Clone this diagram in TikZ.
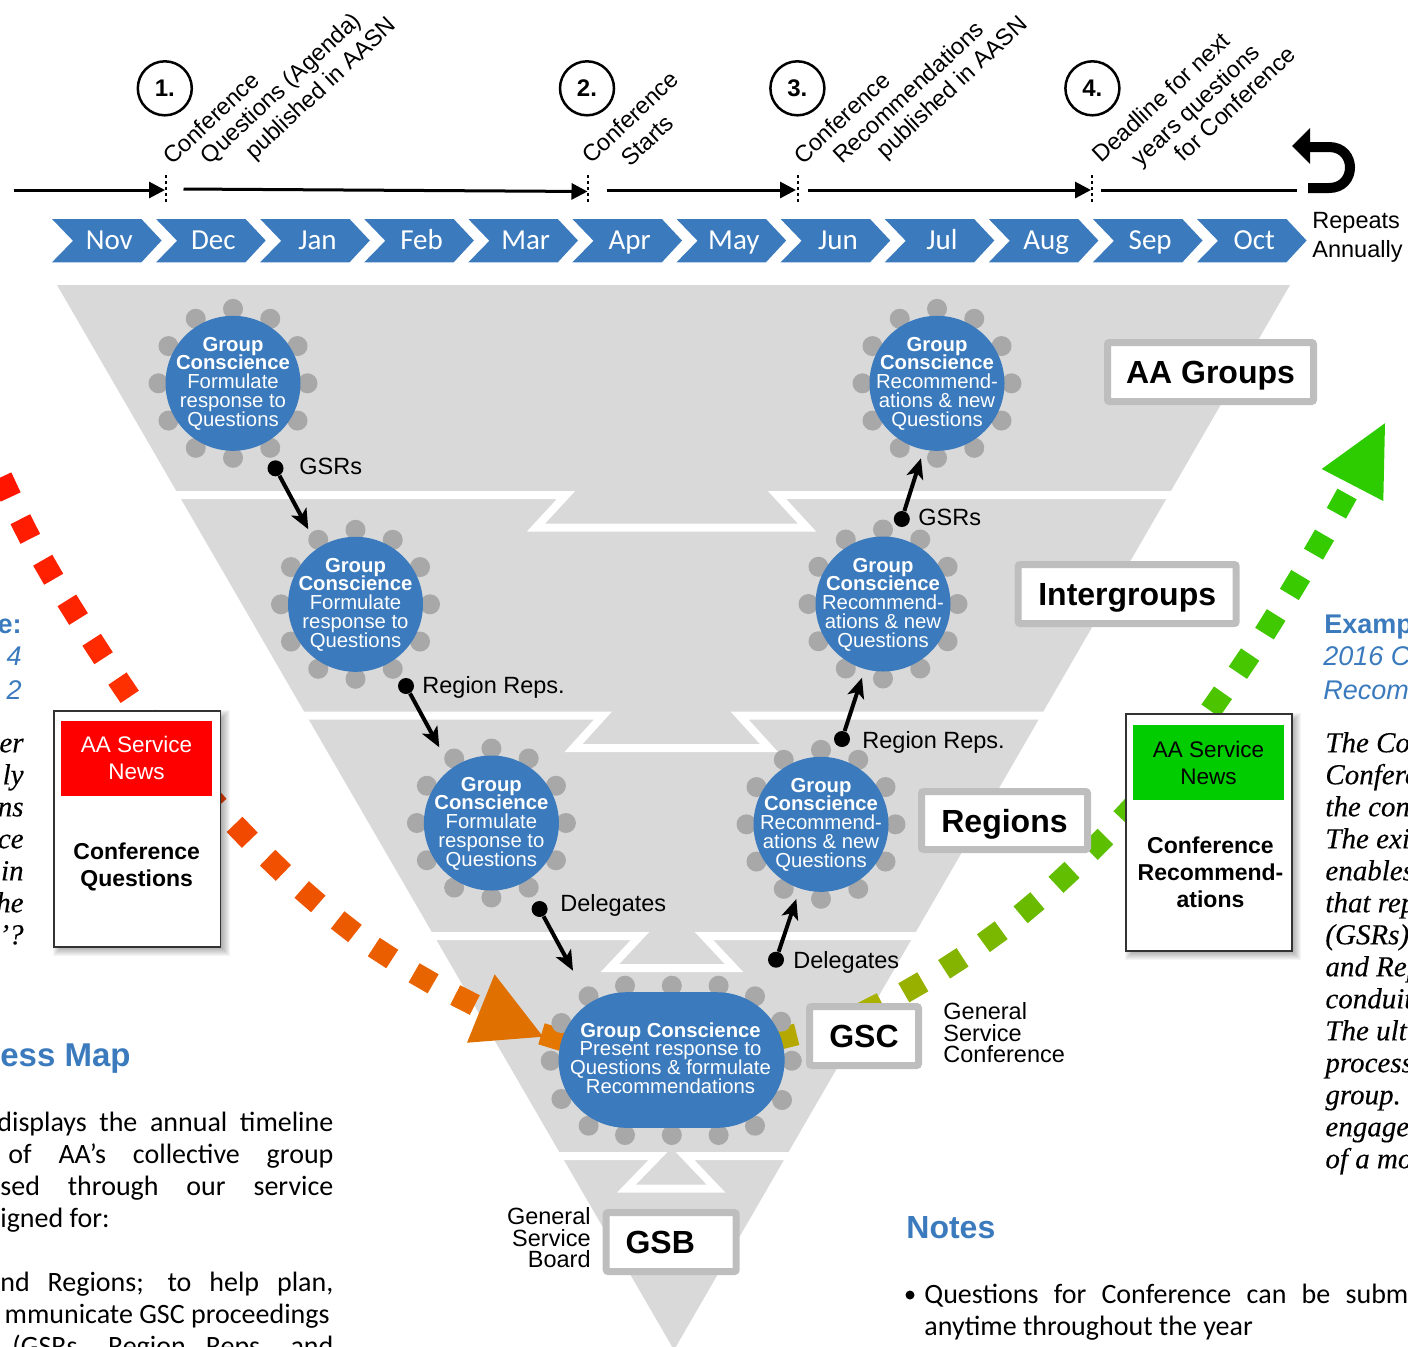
\documentclass[tikz,border=0pt]{standalone}
\usepackage{fontspec}
\setmainfont{Liberation Sans}
\newfontfamily\calfont{Carlito}
\newfontfamily\serfont[ItalicFeatures={FakeBold=0.25}]{Liberation Serif}
\usetikzlibrary{arrows.meta}
\definecolor{aablue}{HTML}{3A7ABD}
\definecolor{funnel}{HTML}{D9D9D9}
\definecolor{frameg}{HTML}{BEBEBE}
\definecolor{seat}{HTML}{A8A8A8}
\definecolor{ShadeOrange}{HTML}{E07000}
\definecolor{HeadGreen}{HTML}{2DCC00}
\definecolor{GreenHdr}{HTML}{00CC00}
\newcommand{\fs}[2]{\lineskiplimit=-100pt\fontsize{#1}{#2}\selectfont}
\newcommand{\seats}[2]{\foreach \a in {0,30,...,330}{\fill[seat] ({#1+74.5*cos(\a)},{#2+74.5*sin(\a)}) circle[radius=10];}}
\newcommand{\softshadow}[4]{\foreach \e in {-3,-2,...,5}{\fill[black,opacity=.04] ({#1+4-\e},{#2+4-\e}) rectangle ({#3+4+\e},{#4+4+\e});}}
\tikzset{
  lbl/.style={inner sep=0,font=\fs{11.75}{11}},
  gcdisc/.style={circle,fill=aablue,inner sep=0,minimum size=67.5pt},
  gctext/.style={text=white,inner sep=0,align=center,font=\fs{10.15}{9.35}},
  tier/.style={draw=frameg,line width=3.5pt,fill=white,rounded corners=1pt,inner sep=0,text height=11.5pt,text depth=0pt,font=\fs{16}{16}\bfseries},
  bdot/.style={circle,fill=black,inner sep=0,minimum size=8pt},
  conn/.style={line width=2pt,-{Stealth[length=10pt,width=8.5pt,inset=2.5pt]}},
  tl/.style={line width=1.5pt,-{Triangle[length=8pt,width=8pt]}},
  tlend/.style={line width=1.5pt},
  stop/.style={line width=1pt,dash pattern=on 1.5pt off 1.5pt},
  num/.style={circle,draw=black,line width=1.25pt,minimum size=27pt,inner sep=0,font=\fs{12}{12}\bfseries},
  rot/.style={rotate=43,inner sep=0,font=\fs{11.75}{11}},
  mon/.style={inner sep=0,text=white,font=\calfont\fs{14.5}{14},anchor=mid},
  wht/.style={white,line width=4pt,miter limit=10},
  svc/.style={draw=black!80,line width=.8pt,fill=white,inner sep=0},
  sbody/.style={inner sep=0,font=\serfont\itshape\fs{14.5}{16}},
  body/.style={inner sep=0,font=\calfont\fs{14}{16}},
  bluehead/.style={inner sep=0,text=aablue,font=\fs{16}{16}\bfseries},
  bluesub/.style={inner sep=0,text=aablue,font=\fs{13.5}{16}\bfseries},
  blueit/.style={inner sep=0,text=aablue,font=\fs{13.5}{16}\itshape},
}
\begin{document}
\begin{tikzpicture}[x=0.5pt,y=-0.5pt]
\useasboundingbox (0,0) rectangle (1408,1346);
\clip (0,0) rectangle (1408,1346);

% funnel
\fill[funnel] (57,285) -- (1290,285) -- (674,1350) -- cycle;
\draw[wht] (150,495) -- (566,495) -- (536,527.5) -- (807,527.5) -- (777,495) -- (1200,495);
\draw[wht] (290,715.5) -- (603,715.5) -- (573.5,748) -- (769,748) -- (739.5,715.5) -- (1060,715.5);
\draw[wht] (400,936) -- (640,936) -- (610,968) -- (734,968) -- (704,936) -- (960,936);
\draw[wht] (540,1156) -- (658,1156) -- (626.5,1188.5) -- (716,1188.5) -- (685,1156) -- (810,1156);

% red to orange dashes
\foreach \x/\y/\a/\c in {
 6/487/-65/FF1500, 25.3/529/-63/FF1C00, 48.2/569.7/-60/FF2000, 72.7/609.7/-58/FF2400, 97.6/649/-57/FF2A00, 123.6/687.7/-56/FF3000,
 153/725/-54/F83400, 211/798/-48/F24400, 242.2/832.3/-46/F14A00, 275.5/865.3/-44/F05000, 310/896.7/-41/EE5400, 346.3/926.7/-38/EC5A00,
 383/953/-33/EB5E00, 423.6/978.3/-30/E86400, 465/1000/-27/E96A00, 552/1037/-17/E37700}{
 \definecolor{dc}{HTML}{\c}
 \fill[dc,shift={(\x,\y)},rotate=\a] (-11,-11) rectangle (11,11);
}
\fill[ShadeOrange] (494.6,974.3) -- (543,1036.7) -- (467,1042.7) -- cycle;

% olive to green dashes
\foreach \x/\y/\a/\c in {
 786/1037/14/B5A800, 872/1008/27/A8B000, 913.3/987.3/30/98B000, 953.3/963.3/33/85B400, 992.3/936.7/36/7AB800, 1029/907.7/40/6ABB00,
 1064/877.3/43/62BE00, 1097.7/844.3/45/5CC000, 1129/810.7/47/58C200, 1216.7/701.8/55/4CC500, 1244/663.6/56/46C700,
 1270.3/624.3/58/40C800, 1295/585/59/3ACA00, 1319/544.6/60/34CB00, 1341.7/503.6/61/30CC00}{
 \definecolor{dc}{HTML}{\c}
 \fill[dc,shift={(\x,\y)},rotate=\a] (-11,-11) rectangle (11,11);
}
\fill[HeadGreen] (1385,423.2) -- (1383.3,501) -- (1321.7,469) -- cycle;

% timeline
\coordinate (a0) at (13.5,190); \coordinate (a1) at (165,190);
\coordinate (b0) at (183.5,189); \coordinate (b1) at (587.5,191.5);
\coordinate (c0) at (607,190); \coordinate (c1) at (796,190);
\coordinate (e0) at (808,190); \coordinate (e1) at (1091,190);
\coordinate (f0) at (1101.4,190); \coordinate (f1) at (1296.7,190);
\draw[tl] (a0) -- (a1);
\draw[tl] (b0) -- (b1);
\draw[tl] (c0) -- (c1);
\draw[tl] (e0) -- (e1);
\draw[tlend] (f0) -- (f1);
\foreach \x in {165.5,588,797.5,1091.5}{\draw[stop] (\x,175) -- (\x,204);}
\node[num] (n1) at (164.8,88.3) {1.};
\node[num] (n2) at (587,88.3) {2.};
\node[num] (n3) at (797.4,88.3) {3.};
\node[num] (n4) at (1092.4,88.3) {4.};
\node[rot] (t11) at (211,118) {Conference};
\node[rot] (t12) at (282,89.5) {Questions (Agenda)};
\node[rot] (t13) at (321.6,89.5) {published in AASN};
\node[rot] (t21) at (630,117.2) {Conference};
\node[rot] (t22) at (647.3,140.5) {Starts};
\node[rot] (t31) at (841.7,117.5) {Conference};
\node[rot] (t32) at (908,92) {Recommendations};
\node[rot] (t33) at (953,88.5) {published in AASN};
\node[rot] (t41) at (1161,97.2) {Deadline for next};
\node[rot] (t42) at (1197,106.5) {years questions};
\node[rot] (t43) at (1235,103.5) {for Conference};
% repeat arrow
\draw[line width=5pt] (1308,188) -- (1329,188) .. controls (1357,188) and (1357,147) .. (1329,147) -- (1306,147);
\fill (1292,146) -- (1310,128) -- (1310,164) -- cycle;
\node[lbl,anchor=mid west] (rep1) at (1312,223) {Repeats};
\node[lbl,anchor=mid west] (rep2) at (1312,252) {Annually};

% months
\foreach \n [count=\i from 0] in {Nov,Dec,Jan,Feb,Mar,Apr,May,Jun,Jul,Aug,Sep,Oct}{
 \pgfmathsetmacro\s{52+104.09*\i}
 \fill[aablue] (\s,219) -- ++(89.4,0) -- ++(20.2,21.5) -- ++(-20.2,21.8) -- ++(-89.4,0) -- ++(21,-21.5) -- cycle;
 \node[mon] (m\i) at ({\s+57.3},244) {\n};
}

% seats
\seats{233}{383.3}
\seats{355.5}{604.3}
\seats{491.4}{823}
\seats{937}{383.3}
\seats{883}{604}
\seats{821}{824.3}
\foreach \x/\y in {625/985.7,671.8/985.7,718.6/985.7,588.6/996.3,755/996.3,561.4/1023,781/1021.7,550.7/1060.7,791.8/1060.7,561.4/1099,782/1100,588.6/1125.7,755/1125.7,625/1135,671.8/1135,718.6/1135}{
 \fill[seat] (\x,\y) circle[radius=10];
}

% group conscience
\node[gcdisc] (g1) at (233,383.3) {};
\node[gcdisc] (g2) at (355.5,604.3) {};
\node[gcdisc] (g3) at (491.4,823) {};
\node[gcdisc] (g4) at (937,383.3) {};
\node[gcdisc] (g5) at (883,604) {};
\node[gcdisc] (g6) at (821,824.3) {};
\node[gctext] (g1t) at (233,383.5) {\textbf{Group}\\\textbf{Conscience}\\Formulate\\response to\\Questions};
\node[gctext] (g2t) at (355.5,604.5) {\textbf{Group}\\\textbf{Conscience}\\Formulate\\response to\\Questions};
\node[gctext] (g3t) at (491.4,823.5) {\textbf{Group}\\\textbf{Conscience}\\Formulate\\response to\\Questions};
\node[gctext] (g4t) at (937,383.5) {\textbf{Group}\\\textbf{Conscience}\\Recommend-\\ations \& new\\Questions};
\node[gctext] (g5t) at (883,604.5) {\textbf{Group}\\\textbf{Conscience}\\Recommend-\\ations \& new\\Questions};
\node[gctext] (g6t) at (821,824.5) {\textbf{Group}\\\textbf{Conscience}\\Recommend-\\ations \& new\\Questions};
\node[fill=aablue,rounded corners=33.9pt,minimum width=113pt,minimum height=67.8pt,inner sep=0] (pill) at (671.6,1060) {};
\node[gctext] (pillt) at (670.5,1058) {\textbf{Group Conscience}\\Present response to\\Questions \& formulate\\Recommendations};

% connectors
\node[bdot] (d1) at (275.5,468.3) {};
\node[bdot] (d2) at (406,686) {};
\node[bdot] (d3) at (539.6,909) {};
\node[bdot] (d4) at (901.8,519) {};
\node[bdot] (d5) at (842,739) {};
\node[bdot] (d6) at (776,959.7) {};
\coordinate (e1x) at (308.3,529.3);
\coordinate (e2x) at (439.3,747.3);
\coordinate (e3x) at (573,970.7);
\coordinate (e4x) at (921,458.3);
\coordinate (e5x) at (862,677.7);
\coordinate (e6x) at (796.3,899);
\draw[conn] (d1) -- (e1x);
\draw[conn] (d2) -- (e2x);
\draw[conn] (d3) -- (e3x);
\draw[conn] (d4) -- (e4x);
\draw[conn] (d5) -- (e5x);
\draw[conn] (d6) -- (e6x);
\node[lbl,anchor=mid west] (l1) at (299,469.5) {GSRs};
\node[lbl,anchor=mid west] (l2) at (422,688.5) {Region Reps.};
\node[lbl,anchor=mid west] (l3) at (560,906.5) {Delegates};
\node[lbl,anchor=mid west] (l4) at (918,520.5) {GSRs};
\node[lbl,anchor=mid west] (l5) at (862,743.5) {Region Reps.};
\node[lbl,anchor=mid west] (l6) at (793,963.5) {Delegates};

% tier boxes
\node[tier,minimum width=103pt,minimum height=29.5pt] (aag) at (1210.5,372) {AA Groups};
\node[tier,minimum width=109pt,minimum height=29.5pt] (ing) at (1127.2,594) {Intergroups};
\node[tier,minimum width=83pt,minimum height=29pt] (reg) at (1004.5,820.5) {Regions};
\node[tier,minimum width=54.5pt,minimum height=29.5pt] (gsc) at (864,1036) {GSC};
\node[tier,minimum width=65pt,minimum height=29.5pt] (gsb) at (671.2,1242) {GSB\hspace*{11pt}};
\node[inner sep=0,align=left,anchor=north west,font=\fs{11.75}{10.7}] (gscl) at (943,1002.5) {General\\Service\\Conference};
\node[inner sep=0,align=right,anchor=north east,font=\fs{11.75}{10.7}] (gsbl) at (591,1207.5) {General\\Service\\Board};

% service news cards
\softshadow{54}{711}{220.5}{947}
\node[svc,minimum width=83.2pt,minimum height=118pt] (lc) at (137.2,829) {};
\node[fill=red,text=white,inner sep=0,minimum width=75.6pt,minimum height=37.4pt,align=center,font=\fs{11.25}{13.5}] (lh) at (136.5,758.4) {AA Service\\News};
\node[inner sep=0,align=center,font=\fs{11.5}{13.5}\bfseries] (lt) at (136.7,867) {Conference\\Questions};
\softshadow{1126}{714}{1292}{951}
\node[svc,minimum width=83pt,minimum height=118.5pt] (rc) at (1209,832.5) {};
\node[fill=GreenHdr,inner sep=0,minimum width=75.5pt,minimum height=37.5pt,align=center,font=\fs{11.25}{13.5}] (rh) at (1208.5,762.5) {AA Service\\News};
\node[inner sep=0,align=center,font=\fs{11.5}{13.5}\bfseries] (rt) at (1210.5,872) {Conference\\Recommend-\\ations};

% left cropped text
\node[bluesub,anchor=mid east] (x1) at (22,628) {e:};
\node[blueit,anchor=mid east] (x2) at (22,660) {4};
\node[blueit,anchor=mid east] (x3) at (22,694) {2};
\foreach \t/\y [count=\i] in {er/747,ly/779,ns/811,ce/843,in/875,he/907,e\kern1.5pt’?/939}{
 \node[sbody,anchor=mid east] (ls\i) at (24,\y) {\t};
}
\node[bluehead,anchor=mid east,font=\fs{16.5}{16}\bfseries] (pm) at (131,1061) {ess Map};
\node[body,anchor=mid west] (b1) at (-3,1126) {\makebox[168pt][s]{displays the annual timeline}};
\node[body,anchor=mid west] (b2) at (8,1158) {\makebox[162.5pt][s]{of AA’s collective group}};
\node[body,anchor=mid west] (b3) at (0,1190) {\makebox[166.5pt][s]{sed through our service}};
\node[body,anchor=mid west] (b4) at (0,1222) {igned for:};
\node[body,anchor=mid west] (b5) at (0,1286) {\makebox[166.5pt][s]{nd Regions; to help plan,}};
\node[body,anchor=mid east] (b6) at (330,1318) {mmunicate GSC proceedings};
\node[body,anchor=mid west] (b7) at (12,1350) {\makebox[160.5pt][s]{(GSRs, Region Reps, and}};

% right cropped text
\node[bluesub,anchor=mid west] (y1) at (1324,628) {Examp};
\node[blueit,anchor=mid west] (y2) at (1323,660) {2016 C};
\node[blueit,anchor=mid west] (y3) at (1323,694) {Recom};
\foreach \t/\y [count=\i] in {The Con/747,Confere/779,the con/811,The exi/843,enables/875,that rep/907,(GSRs)/939,and Rep/971,conduit/1003,The ult/1035,process/1067,group./1099,engage/1131,of a mo/1163}{
 \node[sbody,anchor=mid west] (rs\i) at (1325,\y) {\t};
}

% notes
\node[bluehead,anchor=mid west] (no) at (906,1233) {Notes};
\fill (910,1295) circle[radius=4.5];
\node[body,anchor=mid west] (nt1) at (924,1298) {\makebox[242pt][s]{Questions for Conference can be subm}};
\node[body,anchor=mid west] (nt2) at (924,1330) {anytime throughout the year};
\end{tikzpicture}
\end{document}
